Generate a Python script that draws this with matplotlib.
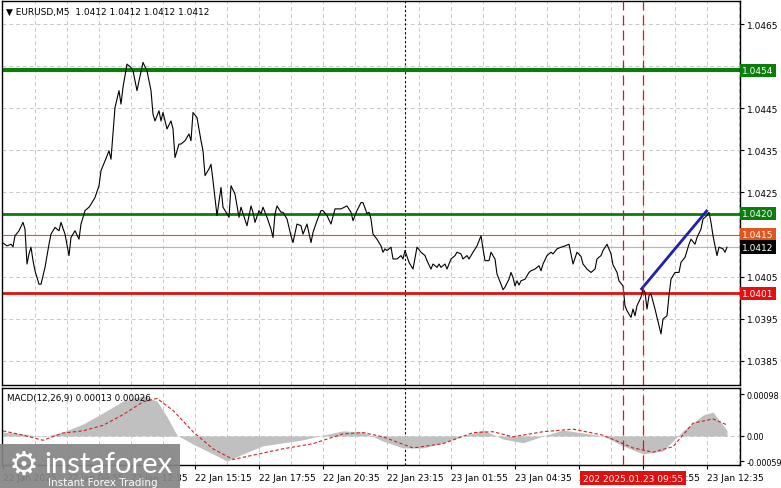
# EURUSD M5 chart with MACD panel, MT4 style
import numpy as np
import pandas as pd
import matplotlib.pyplot as plt
from matplotlib.patches import Rectangle

# bar index (5-minute bars from 22 Jan 2025 07:15) and close price
bars = [0, 2, 4, 5, 6, 8, 10, 11, 12, 13, 14, 15, 16, 18, 19, 21, 23, 24, 26, 28,
        29, 31, 33, 34, 36, 38, 39, 41, 43, 44, 46, 48, 49, 51, 53, 54, 55, 56, 58, 59,
        60, 62, 64, 65, 67, 68, 70, 72, 74, 75, 76, 78, 79, 80, 82, 84, 85, 86, 88, 89,
        91, 93, 94, 95, 97, 99, 100, 101, 103, 104, 105, 107, 109, 110, 113, 114, 116, 118, 119, 120,
        122, 124, 125, 126, 128, 129, 130, 132, 134, 135, 136, 137, 139, 140, 142, 144, 145, 147, 149, 150,
        152, 154, 155, 157, 159, 160, 162, 164, 166, 169, 172, 174, 175, 177, 179, 180, 182, 183, 184, 185,
        187, 189, 190, 191, 192, 194, 195, 197, 199, 200, 201, 203, 205, 207, 209, 211, 212, 214, 215, 217,
        218, 219, 221, 222, 224, 226, 227, 229, 230, 232, 233, 235, 237, 239, 240, 241, 243, 244, 246, 247,
        249, 250, 251, 253, 254, 255, 256, 257, 258, 259, 261, 263, 264, 266, 268, 269, 270, 272, 274, 275,
        277, 279, 281, 283, 285, 287, 289, 290, 292, 294, 296, 297, 299, 300, 302, 304, 305, 307, 308, 310,
        311, 312, 314, 315, 316, 317, 319, 320, 321, 322, 323, 324, 326, 328, 329, 330, 332, 333, 334, 336,
        338, 339, 341, 343, 344, 346, 347, 349, 350, 352, 353, 354, 355, 356, 357, 358, 360, 361, 362]
prices = [1.04130, 1.04123, 1.04127, 1.04121, 1.04147, 1.04159, 1.04179, 1.04163, 1.04080, 1.04104,
          1.04120, 1.04088, 1.04064, 1.04032, 1.04032, 1.04072, 1.04127, 1.04151, 1.04167, 1.04159,
          1.04179, 1.04151, 1.04100, 1.04143, 1.04159, 1.04139, 1.04175, 1.04207, 1.04215, 1.04222,
          1.04238, 1.04266, 1.04302, 1.04325, 1.04349, 1.04329, 1.04389, 1.04452, 1.04492, 1.04460,
          1.04500, 1.04555, 1.04547, 1.04539, 1.04492, 1.04515, 1.04559, 1.04539, 1.04492, 1.04436,
          1.04420, 1.04444, 1.04420, 1.04440, 1.04401, 1.04420, 1.04401, 1.04333, 1.04365, 1.04365,
          1.04373, 1.04389, 1.04373, 1.04440, 1.04428, 1.04373, 1.04349, 1.04290, 1.04306, 1.04317,
          1.04278, 1.04195, 1.04262, 1.04215, 1.04191, 1.04266, 1.04246, 1.04191, 1.04215, 1.04200,
          1.04171, 1.04218, 1.04203, 1.04179, 1.04207, 1.04199, 1.04215, 1.04191, 1.04163, 1.04143,
          1.04199, 1.04218, 1.04203, 1.04203, 1.04187, 1.04147, 1.04131, 1.04175, 1.04171, 1.04151,
          1.04175, 1.04131, 1.04155, 1.04183, 1.04207, 1.04207, 1.04195, 1.04175, 1.04211, 1.04211,
          1.04218, 1.04203, 1.04183, 1.04207, 1.04226, 1.04226, 1.04200, 1.04203, 1.04187, 1.04151,
          1.04139, 1.04123, 1.04108, 1.04116, 1.04112, 1.04120, 1.04092, 1.04092, 1.04100, 1.04092,
          1.04112, 1.04084, 1.04068, 1.04120, 1.04108, 1.04100, 1.04088, 1.04068, 1.04080, 1.04072,
          1.04080, 1.04072, 1.04080, 1.04068, 1.04092, 1.04100, 1.04108, 1.04104, 1.04092, 1.04100,
          1.04092, 1.04108, 1.04123, 1.04147, 1.04116, 1.04088, 1.04088, 1.04108, 1.04092, 1.04056,
          1.04032, 1.04019, 1.04025, 1.04044, 1.04060, 1.04048, 1.04028, 1.04040, 1.04030, 1.04040,
          1.04044, 1.04060, 1.04064, 1.04068, 1.04076, 1.04064, 1.04080, 1.04100, 1.04108, 1.04104,
          1.04116, 1.04120, 1.04123, 1.04127, 1.04080, 1.04108, 1.04098, 1.04080, 1.04068, 1.04060,
          1.04068, 1.04092, 1.04100, 1.04112, 1.04127, 1.04104, 1.04078, 1.04060, 1.04040, 1.04028,
          1.03981, 1.03969, 1.03953, 1.03973, 1.03957, 1.03981, 1.04001, 1.04021, 1.04013, 1.03973,
          1.04005, 1.04009, 1.03973, 1.03933, 1.03914, 1.03949, 1.03957, 1.04005, 1.04044, 1.04060,
          1.04060, 1.04084, 1.04096, 1.04127, 1.04139, 1.04127, 1.04143, 1.04163, 1.04187, 1.04195,
          1.04203, 1.04179, 1.04147, 1.04123, 1.04100, 1.04120, 1.04116, 1.04108, 1.04120]

# MACD(12,26,9) main (histogram) and signal (dashed)
macd_bars = [0, 10, 20, 30, 40, 50, 60, 70, 77, 82, 87, 95, 105, 112, 120, 130, 140, 150, 160, 170,
             180, 190, 200, 210, 220, 230, 240, 250, 260, 270, 280, 290, 300, 310, 320, 330, 340, 350, 355, 362]
macd_main = [0.00009, 0.00005, -0.00002, 0.00009, 0.00028, 0.00054, 0.00082, 0.00094, 0.00082, 0.00045,
             0.00002, -0.00019, -0.00042, -0.00059, -0.00042, -0.00023, -0.00016, -0.00009, 0.00002, 0.00012,
             0.00009, -0.00012, -0.00028, -0.00028, -0.00016, 0.00000, 0.00014, -0.00007, -0.00016, 0.00000,
             0.00014, 0.00007, 0.00000, -0.00023, -0.00042, -0.00035, 0.00012, 0.00049, 0.00056, 0.00013]
sig_bars = [0, 10, 20, 30, 40, 50, 60, 70, 77, 85, 95, 105, 115, 125, 140, 155, 170, 180, 190, 205,
            220, 235, 245, 255, 270, 285, 300, 315, 325, 335, 345, 355, 362]
macd_signal = [0.00012, 0.00002, -0.00010, 0.00007, 0.00012, 0.00025, 0.00050, 0.00080, 0.00088, 0.00060,
               0.00010, -0.00030, -0.00055, -0.00045, -0.00030, -0.00018, 0.00005, 0.00008, -0.00002, -0.00028,
               -0.00018, 0.00008, 0.00010, -0.00002, 0.00010, 0.00016, 0.00002, -0.00028, -0.00038, -0.00025,
               0.00030, 0.00040, 0.00026]

start_time = pd.Timestamp('2025-01-22 07:15')
label_bars = [0, 32, 64, 96, 128, 160, 192, 224, 256, 288, 320, 352]
price_ticks = [1.0385, 1.0395, 1.0405, 1.0415, 1.0425, 1.0435, 1.0445, 1.0455, 1.0465]
hidden_ticks = [1.0415, 1.0455]  # covered by the level tags in the terminal

res_top, res_low, support = 1.0454, 1.0420, 1.0401
ask_level, bid_level = 1.0415, 1.0412
vlines_red = [310, 320]
day_sep = 201
trend_bars = [319.3, 351.8]
trend_prices = [1.04021, 1.04206]

green = '#0a7d0a'
red = '#e01010'
orange = '#e0561e'
grid_kw = dict(color='#c8c8c8', linestyle=(0, (4, 3)), linewidth=0.7)

W, H = 781, 489
fig = plt.figure(figsize=(W / 100, H / 100), dpi=100)
ax1 = fig.add_axes([2 / W, 1 - 386 / H, 738 / W, 384 / H])
ax2 = fig.add_axes([2 / W, 1 - 466 / H, 738 / W, 77 / H])

xlim = (-0.5, 368.5)
grid_bars = np.arange(16, 369, 16)

# price panel
ax1.set_xlim(*xlim)
ax1.set_ylim(1.037925, 1.04705)
for b in grid_bars:
    ax1.axvline(b, **grid_kw, zorder=0)
for p in price_ticks:
    ax1.axhline(p, **grid_kw, zorder=0)
ax1.axhline(bid_level, color='#b4b4b4', lw=0.8, zorder=1)
ax1.axhline(ask_level, color=orange, lw=0.8, zorder=1)
ax1.axhline(res_top, color=green, lw=3, zorder=2)
ax1.axhline(res_low, color=green, lw=2, zorder=2)
ax1.axhline(support, color=red, lw=2, zorder=2)
ax1.plot(bars, prices, color='black', lw=0.8, zorder=3)
ax1.plot(trend_bars, trend_prices, color='#2020b0', lw=2, zorder=4)
for ax in (ax1, ax2):
    ax.axvline(day_sep, color='black', lw=0.8, linestyle=(0, (2, 2)), zorder=1)
    for b in vlines_red:
        ax.axvline(b, color='#c81e1e', lw=0.9, linestyle=(0, (8, 4)), zorder=5)

ax1.yaxis.tick_right()
ax1.set_yticks(price_ticks)
ax1.set_yticklabels(['' if p in hidden_ticks else f'{p:.4f}' for p in price_ticks])
ax1.set_xticks([])
ax1.tick_params(axis='y', length=3, width=0.8, pad=2, labelsize=6.5)

ytr = ax1.get_yaxis_transform()
for lvl, col in [(res_top, green), (res_low, green), (ask_level, orange),
                 (bid_level, 'black'), (support, red)]:
    ax1.text(1.003, lvl, f'{lvl:.4f}', transform=ytr, ha='left', va='center',
             fontsize=6.5, color='white', clip_on=False, zorder=10,
             bbox=dict(boxstyle='square,pad=0.25', fc=col, ec='none'))

ax1.text(0.005, 0.985, '\u25bc EURUSD,M5  1.0412 1.0412 1.0412 1.0412', transform=ax1.transAxes,
         ha='left', va='top', fontsize=6.5, color='black')

# MACD panel
ax2.set_xlim(*xlim)
ax2.set_ylim(-0.00068, 0.001125)
for b in grid_bars:
    ax2.axvline(b, **grid_kw, zorder=0)
ax2.axhline(0, **grid_kw, zorder=0)
ax2.fill_between(macd_bars, 0, macd_main, color='#c0c0c0', lw=0, zorder=1)
ax2.plot(sig_bars, macd_signal, color='#d02020', lw=0.8, linestyle=(0, (3, 2)), zorder=2)
ax2.yaxis.tick_right()
ax2.set_yticks([0.00098, 0.0, -0.00059])
ax2.set_yticklabels(['0.00098', '0.00', '-0.00059'])
ax2.tick_params(axis='y', length=3, width=0.8, pad=1.5, labelsize=5.8)
ax2.set_xticks(label_bars)
xlabels = []
for b in label_bars:
    t = start_time + pd.Timedelta(minutes=5 * b)
    xlabels.append(t.strftime('%d %b %Y') if b == 0 else t.strftime('%d %b %H:%M'))
ax2.set_xticklabels(xlabels, ha='left')
ax2.tick_params(axis='x', length=3, width=0.8, pad=3, labelsize=6.5)
ax2.text(0.007, 0.93, 'MACD(12,26,9) 0.00013 0.00026', transform=ax2.transAxes,
         ha='left', va='top', fontsize=6.3, color='black')

xtr = ax2.get_xaxis_transform()
for b in vlines_red:
    t = start_time + pd.Timedelta(minutes=5 * b)
    ax2.text(b, -0.17, t.strftime('%Y.%m.%d %H:%M'), transform=xtr, ha='center', va='center',
             fontsize=6.5, color='white', clip_on=False, zorder=10,
             bbox=dict(boxstyle='square,pad=0.3', fc=red, ec='none'))

for ax in (ax1, ax2):
    for s in ax.spines.values():
        s.set_linewidth(1.0)

# instaforex watermark
fig.add_artist(Rectangle((0, 0), 180 / W, 44 / H, transform=fig.transFigure,
                         fc='#858585', ec='none', alpha=0.92, zorder=20))
fig.text(24 / W, 24 / H, '\u2699', fontsize=24, color='white', ha='center', va='center', zorder=21)
fig.text(44 / W, 24 / H, 'instaforex', fontsize=21, color='white', ha='left', va='center',
         family='Lato', zorder=21)
fig.text(48 / W, 6 / H, 'Instant Forex Trading', fontsize=7.5, color='white', ha='left', va='center',
         zorder=21)

fig.savefig('out.png', dpi=100, facecolor='white')
